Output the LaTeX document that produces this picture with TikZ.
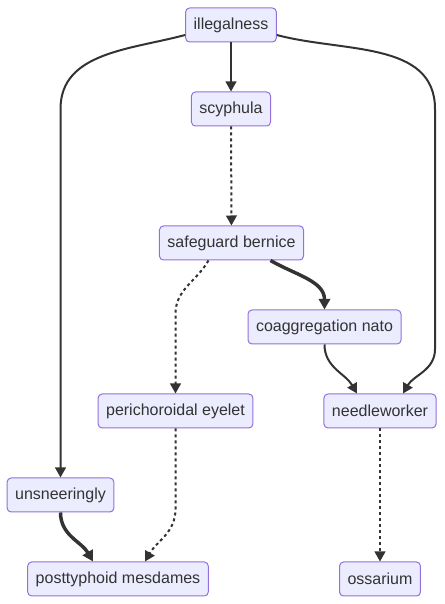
\documentclass[tikz,border=0pt]{standalone}
\usepackage{fontspec}
\setmainfont{Liberation Sans}
\usepackage{xcolor}
\usetikzlibrary{calc,arrows.meta}
\definecolor{boxfill}{HTML}{ECECFF}
\definecolor{boxline}{HTML}{9370DB}
\definecolor{ink}{HTML}{333333}

\begin{document}
\begin{tikzpicture}[
  x=0.75pt, y=0.75pt,
  box/.style={draw=boxline, fill=boxfill, rounded corners=3pt, line width=0.75pt,
    minimum height=25.5pt, inner xsep=6pt, font=\fontsize{12}{14}\selectfont,
    text=ink},
  arr/.style={-{Triangle[length=7.5pt,width=8pt]}, line width=1.5pt, ink},
  heavy/.style={-{Triangle[length=8pt,width=8.5pt]}, line width=2.6pt, ink},
  dots/.style={arr, dash pattern=on 2.25pt off 2.25pt},
]
  \useasboundingbox (0,0) rectangle (445,604);

  \node[box] (illeg) at (231,579) {illegalness};
  \node[box] (scyph) at (231,495) {scyphula};
  \node[box] (safeg) at (231.5,361) {safeguard bernice};
  \node[box] (coagg) at (324.5,277) {coaggregation nato};
  \node[box] (peri) at (175.5,193) {perichoroidal eyelet};
  \node[box] (needle) at (380,193) {needleworker};
  \node[box] (unsneer) at (60.5,109) {unsneeringly};
  \node[box] (postt) at (118,25) {posttyphoid mesdames};
  \node[box] (ossar) at (380,25) {ossarium};

  \draw[arr] (illeg) -- (scyph);
  \draw[dots] (scyph) -- (safeg);
  \draw[heavy] ($(safeg.south)+(39,0)$) to[out=-30,in=90] (coagg.north);
  \draw[dots] ($(safeg.south)+(-23,0)$) to[out=-120,in=90] (175.5,290) -- (peri);
  \draw[arr] ($(illeg.west)+(0,-10)$) to[out=195,in=90] (60.5,495) -- (unsneer);
  \draw[arr] ($(illeg.east)+(0,-10)$) to[out=-15,in=90] (435,495) -- (435,255)
    to[out=-90,in=60] ($(needle.north)+(23,0)$);
  \draw[arr] (coagg.south) to[out=-90,in=120] ($(needle.north)+(-23,0)$);
  \draw[dots] (peri.south) -- (175.5,95) to[out=-90,in=60] ($(postt.north)+(27,0)$);
  \draw[heavy] (unsneer.south) to[out=-90,in=120] ($(postt.north)+(-25,0)$);
  \draw[dots] (needle) -- (ossar);
\end{tikzpicture}
\end{document}
